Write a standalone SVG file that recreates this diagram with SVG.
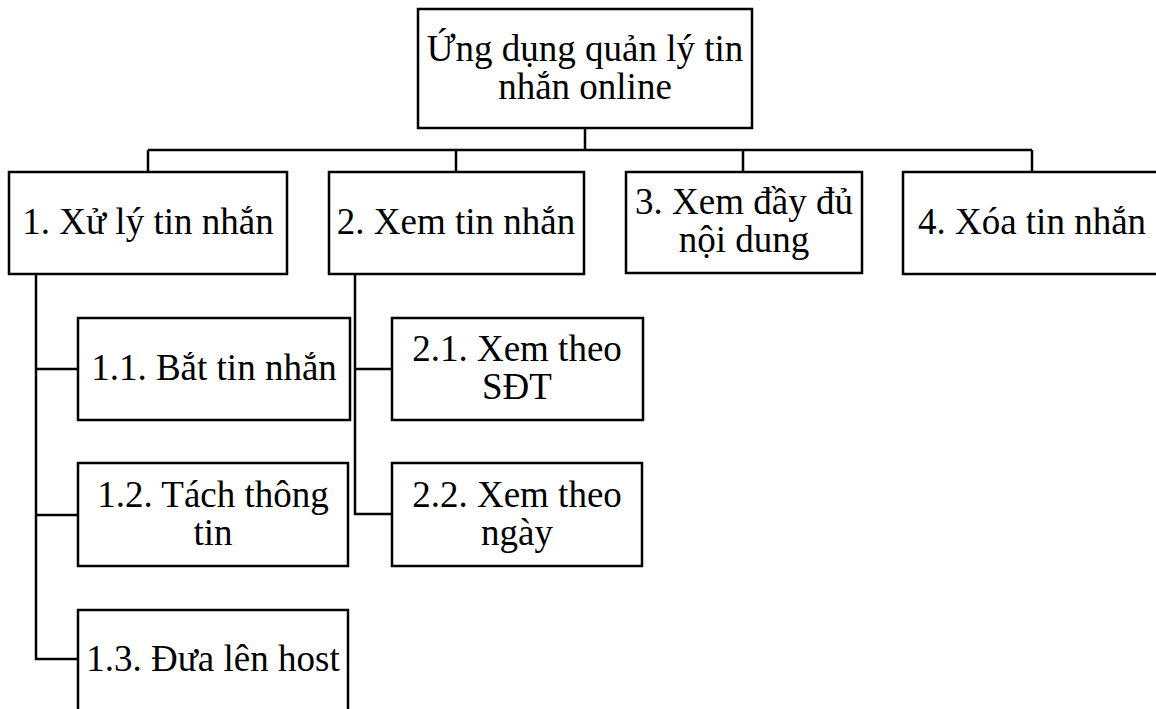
<svg xmlns="http://www.w3.org/2000/svg" width="1156" height="709" viewBox="0 0 1156 709">
<style>
.box{fill:#fff;stroke:#000;stroke-width:2.5}
.t{font-family:"Liberation Serif","Times New Roman",serif;font-size:37px;fill:#000;text-anchor:middle}
.c{fill:none;stroke:#000;stroke-width:2.5}
</style>
<rect width="1156" height="709" fill="#fff"/>
<g id="connectors">
<path class="c" d="M585 128V150M148 150H1032M148 150V172M456 150V172M743 150V172M1032 150V172"/>
<path class="c" d="M36 274V659H78M36 369H78M36 515H78"/>
<path class="c" d="M355 274V514H392M355 369H392"/>
</g>
<g id="root"><rect class="box" x="418" y="9" width="334" height="119"/>
<text class="t" x="585" y="61">Ứng dụng quản lý tin</text><text class="t" x="585" y="99">nhắn online</text></g>
<g id="n1"><rect class="box" x="9" y="172" width="278" height="102"/><text class="t" x="148" y="234">1. Xử lý tin nhắn</text></g>
<g id="n2"><rect class="box" x="329" y="172" width="255" height="102"/><text class="t" x="456" y="234">2. Xem tin nhắn</text></g>
<g id="n3"><rect class="box" x="626" y="172" width="236" height="101"/><text class="t" x="744" y="214">3. Xem đầy đủ</text><text class="t" x="744" y="252">nội dung</text></g>
<g id="n4"><rect class="box" x="903" y="172" width="262" height="102"/><text class="t" x="1032" y="234">4. Xóa tin nhắn</text></g>
<g id="n11"><rect class="box" x="78" y="318" width="272" height="102"/><text class="t" x="214" y="380">1.1. Bắt tin nhắn</text></g>
<g id="n12"><rect class="box" x="78" y="463" width="270" height="103"/><text class="t" x="213" y="507">1.2. Tách thông</text><text class="t" x="213" y="545">tin</text></g>
<g id="n13"><rect class="box" x="78" y="610" width="270" height="120"/><text class="t" x="213" y="671">1.3. Đưa lên host</text></g>
<g id="n21"><rect class="box" x="392" y="318" width="251" height="102"/><text class="t" x="517" y="361">2.1. Xem theo</text><text class="t" x="517" y="399">SĐT</text></g>
<g id="n22"><rect class="box" x="392" y="463" width="250" height="103"/><text class="t" x="517" y="507">2.2. Xem theo</text><text class="t" x="517" y="545">ngày</text></g>
</svg>
